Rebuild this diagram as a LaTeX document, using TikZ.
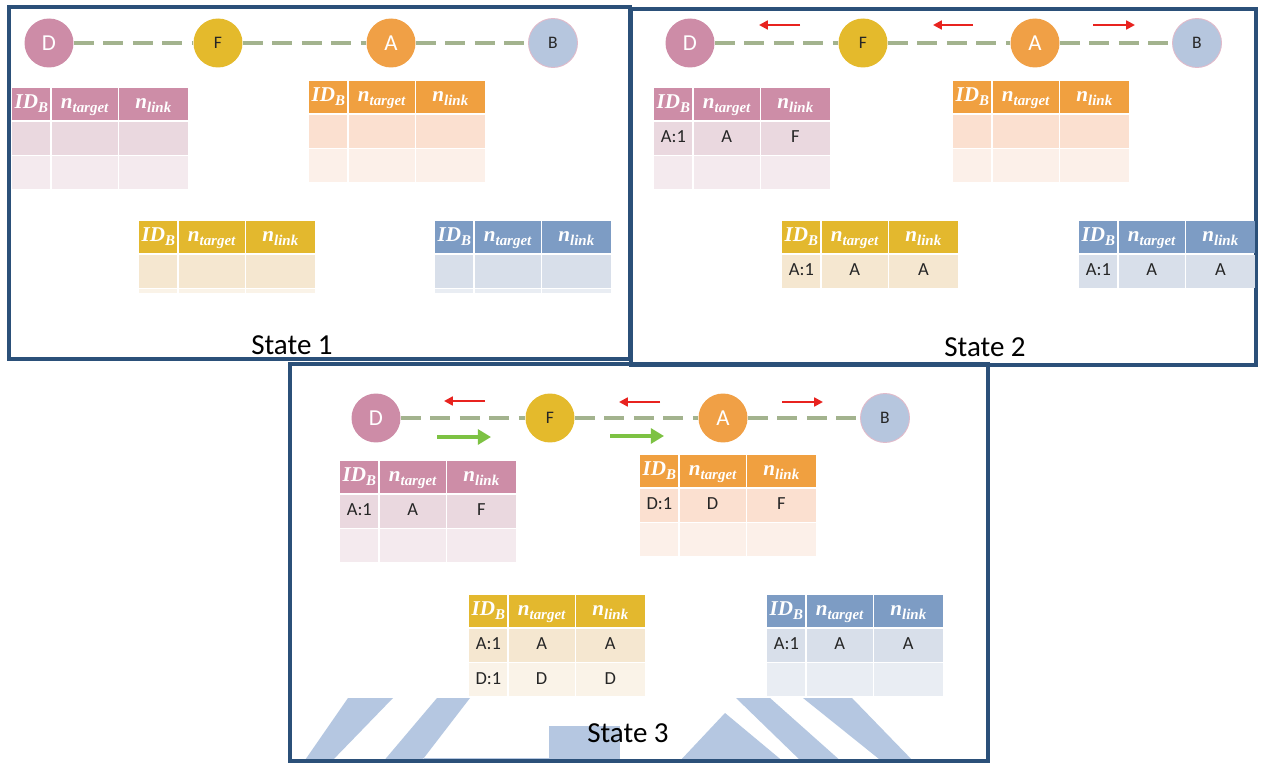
\documentclass[tikz,border=0pt]{standalone}
\usepackage{fontspec}
\setmainfont{Carlito}
\newfontfamily\hdrfam{Liberation Serif}
\usetikzlibrary{matrix,arrows.meta}

\definecolor{frameblue}{HTML}{2B5079}
\definecolor{linkgray}{HTML}{A3B38E}
\definecolor{pinkC}{HTML}{CD8CA7}
\definecolor{pinkH}{HTML}{CD8DA7}
\definecolor{pinkA}{HTML}{EAD8DF}
\definecolor{pinkB}{HTML}{F4EAEE}
\definecolor{orgC}{HTML}{F0A046}
\definecolor{orgH}{HTML}{F0A040}
\definecolor{orgA}{HTML}{FBE0D0}
\definecolor{orgB}{HTML}{FCF0E9}
\definecolor{yelC}{HTML}{E4BA2C}
\definecolor{yelH}{HTML}{E3B82E}
\definecolor{yelA}{HTML}{F5E7D0}
\definecolor{yelB}{HTML}{FAF3E8}
\definecolor{bluC}{HTML}{B6C6DE}
\definecolor{bluH}{HTML}{7D9CC4}
\definecolor{bluA}{HTML}{D8DFEA}
\definecolor{bluB}{HTML}{E9EDF3}
\definecolor{arrred}{HTML}{E8231F}
\definecolor{arrgreen}{HTML}{7DC243}
\definecolor{wmark}{HTML}{B5C7E1}

% header cell texts: bold italic serif with a lowered index
\newcommand{\sub}[1]{\raisebox{-0.35ex}{\fontsize{8.5}{9}\selectfont #1}}
\newcommand{\hid}{ID\sub{B}}
\newcommand{\htg}{n\sub{target}}
\newcommand{\hln}{n\sub{link}}

\begin{document}
\begin{tikzpicture}[x=0.02cm,y=-0.02cm,
  framebox/.style={draw=frameblue,line width=1.8pt},
  statelabel/.style={font=\fontsize{16.5}{18}\selectfont,inner sep=0pt},
  peer/.style={circle,minimum size=0.98cm,inner sep=0pt},
  peerbig/.style={peer,text=white,font=\fontsize{13}{15}\selectfont},
  peersmall/.style={peer,text=black!85,font=\fontsize{10}{12}\selectfont},
  link/.style={draw=linkgray,line width=1.8pt,dash pattern=on 0.4cm off 0.19cm},
  redarr/.style={draw=arrred,line width=1.4pt,-{Triangle[length=5pt,width=5pt]}},
  greenarr/.style={draw=arrgreen,line width=2.6pt,-{Triangle[length=7.5pt,width=8.5pt]}},
  tbl/.style={matrix of nodes,nodes in empty cells,inner sep=0pt,anchor=north west,
    column sep=0.025cm,row sep=0.035cm,
    nodes={inner sep=0pt,text height=1.55ex,text depth=0.45ex,text=black!85,
      font=\fontsize{10.5}{12}\selectfont},
    column 1/.style={nodes={minimum width=0.76cm}},
    column 2/.style={nodes={minimum width=1.32cm}},
    column 3/.style={nodes={minimum width=1.38cm}}},
  tblcol/.style n args={3}{
    row 1/.style={nodes={fill=#1,minimum height=0.63cm,text=white,
      font=\hdrfam\bfseries\itshape\fontsize{12}{13}\selectfont}},
    row 2/.style={nodes={fill=#2,minimum height=0.66cm}},
    row 3/.style={nodes={fill=#3,minimum height=0.66cm}}},
  stub/.style={row 3/.style={nodes={fill=#1,minimum height=0.08cm,text height=0pt,text depth=0pt}}}
]
\useasboundingbox (0,0) rectangle (1267,763);
\fill[white] (0,0) rectangle (1267,763);

% ---------- watermark at the foot of the third panel ----------
\begin{scope}[fill=wmark]
  \fill (303,763) -- (330,763) -- (393,698) -- (348,698) -- cycle;
  \fill (382,763) -- (420,763) -- (470,698) -- (437,698) -- cycle;
  \fill (424,758) rectangle (549,763);
  \fill (549,726) rectangle (620,763);
  \fill (678,763) -- (725,713) -- (785,763) -- cycle;
  \fill (736,698) -- (770,698) -- (843,763) -- (803,763) -- cycle;
  \fill (803,698) -- (852,698) -- (915,763) -- (884,763) -- cycle;
\end{scope}

% ---------- panel frames ----------
\draw[framebox] (9,7) rectangle (630,359);
\draw[framebox] (631,9) rectangle (1256,365);
\draw[framebox] (290,364) rectangle (988,761);

% ================= State 1 =================
\node[peerbig,fill=pinkC]   (D1) at (49,43)  {D};
\node[peersmall,fill=yelC]  (F1) at (218,43) {F};
\node[peerbig,fill=orgC]    (A1) at (391,43) {A};
\node[peersmall,fill=bluC,draw=pinkC!60,line width=0.5pt] (B1) at (553,43) {B};
\draw[link] (D1) -- (F1);
\draw[link] (F1) -- (A1);
\draw[link] (A1) -- (B1);

\matrix (T1D) [tbl,tblcol={pinkH}{pinkA}{pinkB}] at (12,88) {
  \hid & \htg & \hln \\
  & & \\
  & & \\
};
\matrix (T1A) [tbl,tblcol={orgH}{orgA}{orgB}] at (309,81) {
  \hid & \htg & \hln \\
  & & \\
  & & \\
};
\matrix (T1F) [tbl,tblcol={yelH}{yelA}{yelB},stub=yelB] at (139,221) {
  \hid & \htg & \hln \\
  & & \\
  & & \\
};
\matrix (T1B) [tbl,tblcol={bluH}{bluA}{bluB},stub=bluB] at (435,221) {
  \hid & \htg & \hln \\
  & & \\
  & & \\
};
\node[statelabel] (S1) at (292,345) {State 1};

% ================= State 2 =================
\node[peerbig,fill=pinkC]   (D2) at (690,43)  {D};
\node[peersmall,fill=yelC]  (F2) at (863,43)  {F};
\node[peerbig,fill=orgC]    (A2) at (1035,43) {A};
\node[peersmall,fill=bluC,draw=pinkC!60,line width=0.5pt] (B2) at (1197,43) {B};
\draw[link] (D2) -- (F2);
\draw[link] (F2) -- (A2);
\draw[link] (A2) -- (B2);

\coordinate (r21s) at (800,25);  \coordinate (r21e) at (759,25);
\coordinate (r22s) at (973,25);  \coordinate (r22e) at (933,25);
\coordinate (r23s) at (1093,25); \coordinate (r23e) at (1135,25);
\draw[redarr] (r21s) -- (r21e);
\draw[redarr] (r22s) -- (r22e);
\draw[redarr] (r23s) -- (r23e);

\matrix (T2D) [tbl,tblcol={pinkH}{pinkA}{pinkB}] at (654,88) {
  \hid & \htg & \hln \\
  A:1 & A & F \\
  & & \\
};
\matrix (T2A) [tbl,tblcol={orgH}{orgA}{orgB}] at (953,81) {
  \hid & \htg & \hln \\
  & & \\
  & & \\
};
\matrix (T2F) [tbl,tblcol={yelH}{yelA}{yelB}] at (782,221) {
  \hid & \htg & \hln \\
  A:1 & A & A \\
};
\matrix (T2B) [tbl,tblcol={bluH}{bluA}{bluB}] at (1079,221) {
  \hid & \htg & \hln \\
  A:1 & A & A \\
};
\node[statelabel] (S2) at (985,347) {State 2};

% ================= State 3 =================
\node[peerbig,fill=pinkC]   (D3) at (376,418) {D};
\node[peersmall,fill=yelC]  (F3) at (550,418) {F};
\node[peerbig,fill=orgC]    (A3) at (723,418) {A};
\node[peersmall,fill=bluC,draw=pinkC!60,line width=0.5pt] (B3) at (885,418) {B};
\draw[link] (D3) -- (F3);
\draw[link] (F3) -- (A3);
\draw[link] (A3) -- (B3);

\coordinate (r31s) at (485,401); \coordinate (r31e) at (444,401);
\coordinate (r32s) at (660,402); \coordinate (r32e) at (619,402);
\coordinate (r33s) at (782,402); \coordinate (r33e) at (823,402);
\draw[redarr] (r31s) -- (r31e);
\draw[redarr] (r32s) -- (r32e);
\draw[redarr] (r33s) -- (r33e);
\coordinate (g31s) at (437,437); \coordinate (g31e) at (491,437);
\coordinate (g32s) at (610,436); \coordinate (g32e) at (664,436);
\draw[greenarr] (g31s) -- (g31e);
\draw[greenarr] (g32s) -- (g32e);

\matrix (T3D) [tbl,tblcol={pinkH}{pinkA}{pinkB}] at (340,461) {
  \hid & \htg & \hln \\
  A:1 & A & F \\
  & & \\
};
\matrix (T3A) [tbl,tblcol={orgH}{orgA}{orgB}] at (640,455) {
  \hid & \htg & \hln \\
  D:1 & D & F \\
  & & \\
};
\matrix (T3F) [tbl,tblcol={yelH}{yelA}{yelB}] at (469,595) {
  \hid & \htg & \hln \\
  A:1 & A & A \\
  D:1 & D & D \\
};
\matrix (T3B) [tbl,tblcol={bluH}{bluA}{bluB}] at (767,595) {
  \hid & \htg & \hln \\
  A:1 & A & A \\
  & & \\
};
\node[statelabel] (S3) at (628,733) {State 3};
\end{tikzpicture}
\end{document}
